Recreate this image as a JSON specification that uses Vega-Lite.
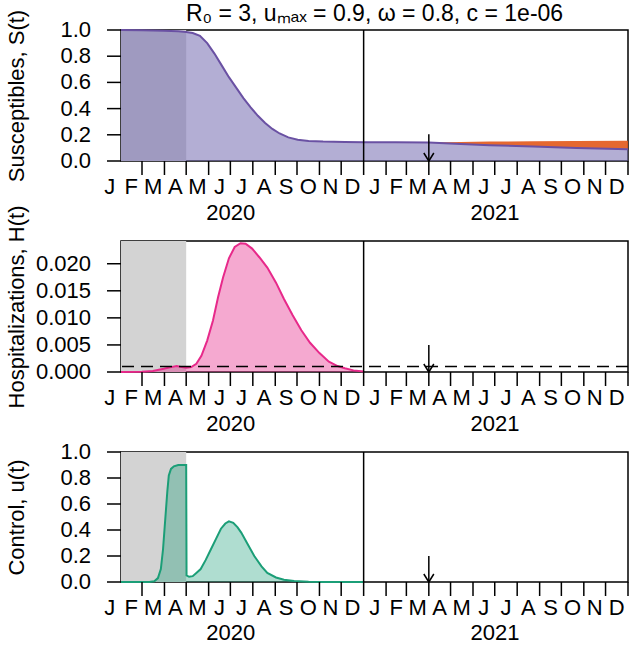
{
  "$schema": "https://vega.github.io/schema/vega-lite/v6.json",
  "padding": {"left": 4, "top": 2, "right": 2, "bottom": 0},
  "spacing": 80,
  "bounds": "flush",
  "config": {
    "font": "Liberation Sans",
    "view": {"stroke": "black", "strokeWidth": 1.5},
    "axis": {"domain": false, "grid": false, "ticks": false, "labels": false, "titleFont": "Liberation Sans", "titleFontSize": 22, "titleFontWeight": "normal", "titleColor": "black"}
  },
  "datasets": {
    "S": [
      {"t": 31, "S": 1.0}, {"t": 60, "S": 0.999}, {"t": 90, "S": 0.995}, {"t": 110, "S": 0.99}, {"t": 121, "S": 0.985},
      {"t": 130, "S": 0.977}, {"t": 140, "S": 0.955}, {"t": 150, "S": 0.9}, {"t": 160, "S": 0.82}, {"t": 170, "S": 0.73},
      {"t": 180, "S": 0.64}, {"t": 190, "S": 0.56}, {"t": 200, "S": 0.48}, {"t": 210, "S": 0.41}, {"t": 220, "S": 0.345},
      {"t": 230, "S": 0.29}, {"t": 240, "S": 0.245}, {"t": 250, "S": 0.21}, {"t": 262, "S": 0.18}, {"t": 275, "S": 0.163},
      {"t": 290, "S": 0.153}, {"t": 310, "S": 0.148}, {"t": 340, "S": 0.145}, {"t": 366, "S": 0.144}, {"t": 410, "S": 0.143},
      {"t": 456, "S": 0.141}, {"t": 500, "S": 0.13}, {"t": 540, "S": 0.121}, {"t": 600, "S": 0.11}, {"t": 660, "S": 0.1}, {"t": 731, "S": 0.089}
    ],
    "orange": [
      {"t": 456, "lo": 0.141, "hi": 0.141}, {"t": 500, "lo": 0.13, "hi": 0.145}, {"t": 540, "lo": 0.121, "hi": 0.148},
      {"t": 600, "lo": 0.11, "hi": 0.15}, {"t": 660, "lo": 0.1, "hi": 0.152}, {"t": 731, "lo": 0.089, "hi": 0.154}
    ],
    "H": [
      {"t": 31, "H": 0}, {"t": 60, "H": 0.00005}, {"t": 75, "H": 0.0002}, {"t": 90, "H": 0.0006}, {"t": 100, "H": 0.0009},
      {"t": 108, "H": 0.0011}, {"t": 115, "H": 0.0009}, {"t": 121, "H": 0.0008}, {"t": 128, "H": 0.0009}, {"t": 135, "H": 0.0015},
      {"t": 142, "H": 0.003}, {"t": 150, "H": 0.0058}, {"t": 158, "H": 0.0095}, {"t": 165, "H": 0.0138}, {"t": 172, "H": 0.0175},
      {"t": 180, "H": 0.021}, {"t": 188, "H": 0.0231}, {"t": 196, "H": 0.0238}, {"t": 203, "H": 0.0237}, {"t": 212, "H": 0.0228},
      {"t": 222, "H": 0.0212}, {"t": 233, "H": 0.0193}, {"t": 245, "H": 0.0165}, {"t": 256, "H": 0.0135}, {"t": 268, "H": 0.0105},
      {"t": 280, "H": 0.0077}, {"t": 292, "H": 0.0054}, {"t": 305, "H": 0.0035}, {"t": 318, "H": 0.0019}, {"t": 330, "H": 0.0011},
      {"t": 340, "H": 0.0007}, {"t": 352, "H": 0.0003}, {"t": 366, "H": 0.0001}
    ],
    "U": [
      {"t": 31, "u": 0}, {"t": 70, "u": 0}, {"t": 77, "u": 0.005}, {"t": 82, "u": 0.03}, {"t": 86, "u": 0.1}, {"t": 89, "u": 0.25},
      {"t": 91, "u": 0.4}, {"t": 93, "u": 0.55}, {"t": 95, "u": 0.7}, {"t": 97, "u": 0.82}, {"t": 100, "u": 0.87}, {"t": 104, "u": 0.89},
      {"t": 110, "u": 0.9}, {"t": 121, "u": 0.9}, {"t": 121.5, "u": 0.05}, {"t": 125, "u": 0.04}, {"t": 130, "u": 0.045}, {"t": 135, "u": 0.07},
      {"t": 141, "u": 0.1}, {"t": 148, "u": 0.17}, {"t": 155, "u": 0.25}, {"t": 162, "u": 0.33}, {"t": 169, "u": 0.41}, {"t": 175, "u": 0.45},
      {"t": 180, "u": 0.467}, {"t": 186, "u": 0.455}, {"t": 192, "u": 0.42}, {"t": 197, "u": 0.38}, {"t": 205, "u": 0.3}, {"t": 215, "u": 0.2},
      {"t": 225, "u": 0.12}, {"t": 233, "u": 0.07}, {"t": 245, "u": 0.035}, {"t": 256, "u": 0.018}, {"t": 270, "u": 0.007}, {"t": 290, "u": 0.002},
      {"t": 310, "u": 0}, {"t": 366, "u": 0}
    ],
    "shade": [{"t0": 31, "t1": 121}],
    "threshold": [{"H": 0.001}],
    "year": [{"t": 366}],
    "arrow": [{"t": 456}],
    "xticks": [{"t": 60}, {"t": 91}, {"t": 121}, {"t": 152}, {"t": 182}, {"t": 213}, {"t": 244}, {"t": 274}, {"t": 305}, {"t": 335}, {"t": 366},
      {"t": 397}, {"t": 425}, {"t": 456}, {"t": 486}, {"t": 517}, {"t": 547}, {"t": 578}, {"t": 609}, {"t": 639}, {"t": 670}, {"t": 700}, {"t": 731}],
    "yticksUnit": [{"v": 0}, {"v": 0.2}, {"v": 0.4}, {"v": 0.6}, {"v": 0.8}, {"v": 1.0}],
    "yticksH": [{"v": 0}, {"v": 0.005}, {"v": 0.01}, {"v": 0.015}, {"v": 0.02}],
    "months": [
      {"t": 15.5, "m": "J"}, {"t": 45, "m": "F"}, {"t": 75.5, "m": "M"}, {"t": 106, "m": "A"}, {"t": 136.5, "m": "M"}, {"t": 167, "m": "J"},
      {"t": 197.5, "m": "J"}, {"t": 228.5, "m": "A"}, {"t": 259, "m": "S"}, {"t": 289.5, "m": "O"}, {"t": 320, "m": "N"}, {"t": 350.5, "m": "D"},
      {"t": 381.5, "m": "J"}, {"t": 411, "m": "F"}, {"t": 440.5, "m": "M"}, {"t": 471, "m": "A"}, {"t": 501.5, "m": "M"}, {"t": 532, "m": "J"},
      {"t": 562.5, "m": "J"}, {"t": 593.5, "m": "A"}, {"t": 624, "m": "S"}, {"t": 654.5, "m": "O"}, {"t": 685, "m": "N"}, {"t": 715.5, "m": "D"}
    ],
    "years": [{"t": 182.5, "y": "2020"}, {"t": 547.5, "y": "2021"}]
  },
  "vconcat": [
    {
      "width": 507, "height": 131,
      "title": {"text": "R₀ = 3, uₘₐₓ = 0.9, ω = 0.8, c = 1e-06", "fontSize": 23, "fontWeight": "normal", "font": "Liberation Sans", "color": "black", "frame": "group", "anchor": "middle", "offset": -17},
      "layer": [
        {"data": {"name": "shade"}, "mark": {"type": "rect", "color": "#d3d3d3"},
         "encoding": {"x": {"field": "t0", "type": "quantitative", "scale": {"domain": [31, 731], "nice": false, "zero": false}, "title": null, "axis": null},
           "x2": {"field": "t1"}}},
        {"data": {"name": "S"}, "mark": {"type": "area", "color": "#756bb1", "opacity": 0.55},
         "encoding": {"x": {"field": "t", "type": "quantitative"}, "y": {"field": "S", "type": "quantitative", "scale": {"domain": [0, 1], "nice": false},
           "title": "Susceptibles, S(t)", "axis": {"labels": false, "ticks": false, "titleX": -105, "titleBaseline": "middle"}}}},
        {"data": {"name": "orange"}, "mark": {"type": "area", "color": "#e2581a", "opacity": 0.9},
         "encoding": {"x": {"field": "t", "type": "quantitative"}, "y": {"field": "lo", "type": "quantitative"}, "y2": {"field": "hi"}}},
        {"data": {"name": "S"}, "mark": {"type": "line", "color": "#6a51a3", "strokeWidth": 2},
         "encoding": {"x": {"field": "t", "type": "quantitative"}, "y": {"field": "S", "type": "quantitative"}}},
        {"data": {"name": "year"}, "mark": {"type": "rule", "color": "black", "strokeWidth": 1.5},
         "encoding": {"x": {"field": "t", "type": "quantitative"}}},
        {"data": {"name": "arrow"}, "mark": {"type": "rule", "color": "black", "strokeWidth": 1.5},
         "encoding": {"x": {"field": "t", "type": "quantitative"}, "y": {"datum": 0.205}, "y2": {"datum": 0}}},
        {"data": {"name": "arrow"}, "mark": {"type": "point", "shape": "M-1,-1.6L0,0L1,-1.6", "filled": false, "stroke": "black", "strokeWidth": 1.5, "size": 100, "opacity": 1},
         "encoding": {"x": {"field": "t", "type": "quantitative"}, "y": {"datum": 0}}},
        {"data": {"name": "xticks"}, "mark": {"type": "rule", "color": "black", "strokeWidth": 1.5, "y2Offset": 14},
         "encoding": {"x": {"field": "t", "type": "quantitative"}, "y": {"datum": 0}, "y2": {"datum": 0}}},
        {"data": {"name": "yticksUnit"}, "mark": {"type": "rule", "color": "black", "strokeWidth": 1.5, "x2Offset": -14},
         "encoding": {"y": {"field": "v", "type": "quantitative"}, "x": {"datum": 31}, "x2": {"datum": 31}}},
        {"data": {"name": "yticksUnit"}, "mark": {"type": "text", "fontSize": 22, "font": "Liberation Sans", "align": "right", "baseline": "middle", "dx": -30, "color": "black"},
         "encoding": {"y": {"field": "v", "type": "quantitative"}, "x": {"datum": 31}, "text": {"field": "v", "type": "quantitative", "format": ".1f"}}},
        {"data": {"name": "months"}, "mark": {"type": "text", "fontSize": 22, "font": "Liberation Sans", "baseline": "middle", "dy": 26, "color": "black"},
         "encoding": {"x": {"field": "t", "type": "quantitative"}, "y": {"datum": 0}, "text": {"field": "m"}}},
        {"data": {"name": "years"}, "mark": {"type": "text", "fontSize": 22, "font": "Liberation Sans", "baseline": "middle", "dy": 52, "color": "black"},
         "encoding": {"x": {"field": "t", "type": "quantitative"}, "y": {"datum": 0}, "text": {"field": "y"}}}
      ]
    },
    {
      "width": 507, "height": 131,
      "layer": [
        {"data": {"name": "shade"}, "mark": {"type": "rect", "color": "#d3d3d3"},
         "encoding": {"x": {"field": "t0", "type": "quantitative", "scale": {"domain": [31, 731], "nice": false, "zero": false}, "title": null, "axis": null},
           "x2": {"field": "t1"}}},
        {"data": {"name": "H"}, "mark": {"type": "area", "color": "#e7298a", "opacity": 0.4},
         "encoding": {"x": {"field": "t", "type": "quantitative"}, "y": {"field": "H", "type": "quantitative", "scale": {"domain": [0, 0.0242], "nice": false},
           "title": "Hospitalizations, H(t)", "axis": {"labels": false, "ticks": false, "titleX": -105, "titleBaseline": "middle"}}}},
        {"data": {"name": "H"}, "mark": {"type": "line", "color": "#e7298a", "strokeWidth": 2},
         "encoding": {"x": {"field": "t", "type": "quantitative"}, "y": {"field": "H", "type": "quantitative"}}},
        {"data": {"name": "threshold"}, "mark": {"type": "rule", "color": "black", "strokeWidth": 1.5, "strokeDash": [12, 7]},
         "encoding": {"y": {"field": "H", "type": "quantitative"}}},
        {"data": {"name": "year"}, "mark": {"type": "rule", "color": "black", "strokeWidth": 1.5},
         "encoding": {"x": {"field": "t", "type": "quantitative"}}},
        {"data": {"name": "arrow"}, "mark": {"type": "rule", "color": "black", "strokeWidth": 1.5},
         "encoding": {"x": {"field": "t", "type": "quantitative"}, "y": {"datum": 0.005}, "y2": {"datum": 0}}},
        {"data": {"name": "arrow"}, "mark": {"type": "point", "shape": "M-1,-1.6L0,0L1,-1.6", "filled": false, "stroke": "black", "strokeWidth": 1.5, "size": 100, "opacity": 1},
         "encoding": {"x": {"field": "t", "type": "quantitative"}, "y": {"datum": 0}}},
        {"data": {"name": "xticks"}, "mark": {"type": "rule", "color": "black", "strokeWidth": 1.5, "y2Offset": 14},
         "encoding": {"x": {"field": "t", "type": "quantitative"}, "y": {"datum": 0}, "y2": {"datum": 0}}},
        {"data": {"name": "yticksH"}, "mark": {"type": "rule", "color": "black", "strokeWidth": 1.5, "x2Offset": -14},
         "encoding": {"y": {"field": "v", "type": "quantitative"}, "x": {"datum": 31}, "x2": {"datum": 31}}},
        {"data": {"name": "yticksH"}, "mark": {"type": "text", "fontSize": 22, "font": "Liberation Sans", "align": "right", "baseline": "middle", "dx": -30, "color": "black"},
         "encoding": {"y": {"field": "v", "type": "quantitative"}, "x": {"datum": 31}, "text": {"field": "v", "type": "quantitative", "format": ".3f"}}},
        {"data": {"name": "months"}, "mark": {"type": "text", "fontSize": 22, "font": "Liberation Sans", "baseline": "middle", "dy": 26, "color": "black"},
         "encoding": {"x": {"field": "t", "type": "quantitative"}, "y": {"datum": 0}, "text": {"field": "m"}}},
        {"data": {"name": "years"}, "mark": {"type": "text", "fontSize": 22, "font": "Liberation Sans", "baseline": "middle", "dy": 52, "color": "black"},
         "encoding": {"x": {"field": "t", "type": "quantitative"}, "y": {"datum": 0}, "text": {"field": "y"}}}
      ]
    },
    {
      "width": 507, "height": 130,
      "layer": [
        {"data": {"name": "shade"}, "mark": {"type": "rect", "color": "#d3d3d3"},
         "encoding": {"x": {"field": "t0", "type": "quantitative", "scale": {"domain": [31, 731], "nice": false, "zero": false}, "title": null, "axis": null},
           "x2": {"field": "t1"}}},
        {"data": {"name": "U"}, "mark": {"type": "area", "color": "#1b9e77", "opacity": 0.35},
         "encoding": {"x": {"field": "t", "type": "quantitative"}, "y": {"field": "u", "type": "quantitative", "scale": {"domain": [0, 1], "nice": false},
           "title": "Control, u(t)", "axis": {"labels": false, "ticks": false, "titleX": -105, "titleBaseline": "middle"}}}},
        {"data": {"name": "U"}, "mark": {"type": "line", "color": "#1b9e77", "strokeWidth": 2},
         "encoding": {"x": {"field": "t", "type": "quantitative"}, "y": {"field": "u", "type": "quantitative"}}},
        {"data": {"name": "year"}, "mark": {"type": "rule", "color": "black", "strokeWidth": 1.5},
         "encoding": {"x": {"field": "t", "type": "quantitative"}}},
        {"data": {"name": "arrow"}, "mark": {"type": "rule", "color": "black", "strokeWidth": 1.5},
         "encoding": {"x": {"field": "t", "type": "quantitative"}, "y": {"datum": 0.2}, "y2": {"datum": 0}}},
        {"data": {"name": "arrow"}, "mark": {"type": "point", "shape": "M-1,-1.6L0,0L1,-1.6", "filled": false, "stroke": "black", "strokeWidth": 1.5, "size": 100, "opacity": 1},
         "encoding": {"x": {"field": "t", "type": "quantitative"}, "y": {"datum": 0}}},
        {"data": {"name": "xticks"}, "mark": {"type": "rule", "color": "black", "strokeWidth": 1.5, "y2Offset": 14},
         "encoding": {"x": {"field": "t", "type": "quantitative"}, "y": {"datum": 0}, "y2": {"datum": 0}}},
        {"data": {"name": "yticksUnit"}, "mark": {"type": "rule", "color": "black", "strokeWidth": 1.5, "x2Offset": -14},
         "encoding": {"y": {"field": "v", "type": "quantitative"}, "x": {"datum": 31}, "x2": {"datum": 31}}},
        {"data": {"name": "yticksUnit"}, "mark": {"type": "text", "fontSize": 22, "font": "Liberation Sans", "align": "right", "baseline": "middle", "dx": -30, "color": "black"},
         "encoding": {"y": {"field": "v", "type": "quantitative"}, "x": {"datum": 31}, "text": {"field": "v", "type": "quantitative", "format": ".1f"}}},
        {"data": {"name": "months"}, "mark": {"type": "text", "fontSize": 22, "font": "Liberation Sans", "baseline": "middle", "dy": 26, "color": "black"},
         "encoding": {"x": {"field": "t", "type": "quantitative"}, "y": {"datum": 0}, "text": {"field": "m"}}},
        {"data": {"name": "years"}, "mark": {"type": "text", "fontSize": 22, "font": "Liberation Sans", "baseline": "middle", "dy": 51, "color": "black"},
         "encoding": {"x": {"field": "t", "type": "quantitative"}, "y": {"datum": 0}, "text": {"field": "y"}}}
      ]
    }
  ]
}
